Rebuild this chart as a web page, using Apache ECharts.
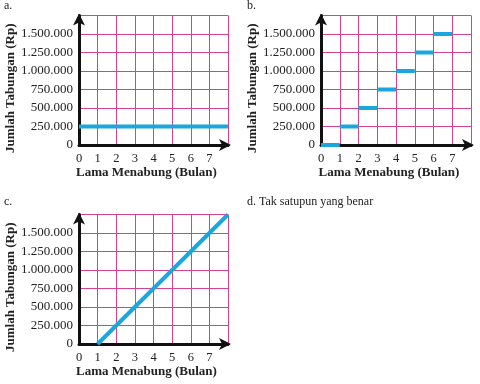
<!DOCTYPE html>
<html><head><meta charset="utf-8">
<script src="https://cdn.jsdelivr.net/npm/echarts@6/dist/echarts.min.js"></script>
<style>html,body{margin:0;padding:0;background:#fff}#c{width:480px;height:384px}</style>
</head><body><div id="c"></div>
<script>
// ---- data ----
const xTicks = [0, 1, 2, 3, 4, 5, 6, 7];
const yTicks = [0, 250000, 500000, 750000, 1000000, 1250000, 1500000];
const xName = 'Lama Menabung (Bulan)';
const yName = 'Jumlah Tabungan (Rp)';
const panelLabels = ['a.', 'b.', 'c.'];
const optionD = 'd. Tak satupun yang benar';
// panel a: constant savings
const seriesA = [[0, 250000], [8, 250000]];
// panel b: step values per month interval (start month, value)
const stepStarts = [0, 1, 2, 3, 4, 5, 6];
const stepValues = [0, 250000, 500000, 750000, 1000000, 1250000, 1500000];
// panel c: straight line
const seriesC = [[1, 0], [8, 1750000]];

const FONT = 'Liberation Serif';
const GRIDC = '#d6428f';
const LINEC = '#1ba7de';

function fmt(v) {
  return String(v).replace(/\B(?=(\d{3})+(?!\d))/g, '.');
}
function xAxis(i) {
  return {
    type: 'value', gridIndex: i, min: 0, max: 8, interval: 1,
    name: xName, nameLocation: 'middle', nameGap: 20,
    nameTextStyle: { fontFamily: FONT, fontWeight: 'bold', fontSize: 13, color: '#222', padding: [0, 14, 0, 0] },
    axisLine: { lineStyle: { color: '#111', width: 3 }, symbol: ['none', 'arrow'], symbolSize: [9, 12], symbolOffset: [0, 3] },
    axisTick: { show: false },
    axisLabel: { fontFamily: FONT, fontSize: 12.5, color: '#222', margin: 7,
      formatter: v => xTicks.includes(v) ? String(v) : '' },
    splitLine: { show: true, lineStyle: { color: GRIDC, width: 1 } }
  };
}
function yAxis(i) {
  return {
    type: 'value', gridIndex: i, min: 0, max: 1750000, interval: 250000,
    name: yName, nameLocation: 'middle', nameGap: 62, nameRotate: 90,
    nameTextStyle: { fontFamily: FONT, fontWeight: 'bold', fontSize: 13, color: '#222', padding: [0, 16, 0, 0], align: 'center' },
    axisLine: { lineStyle: { color: '#111', width: 3 }, symbol: ['none', 'arrow'], symbolSize: [9, 12], symbolOffset: [0, 2] },
    axisTick: { show: false },
    axisLabel: { fontFamily: FONT, fontSize: 13, color: '#222', margin: 6,
      formatter: v => yTicks.includes(v) ? fmt(v) : '' },
    splitLine: { show: true, lineStyle: { color: GRIDC, width: 1 } }
  };
}
const lineStyle = { color: LINEC, width: 4 };
const series = [];
series.push({ type: 'line', xAxisIndex: 0, yAxisIndex: 0, data: seriesA, symbol: 'none', lineStyle, z: 5 });
stepStarts.forEach((s, k) => {
  series.push({ type: 'line', xAxisIndex: 1, yAxisIndex: 1,
    data: [[s, stepValues[k]], [s + 1, stepValues[k]]], symbol: 'none', lineStyle, z: 5 });
});
series.push({ type: 'line', xAxisIndex: 2, yAxisIndex: 2, data: seriesC, symbol: 'none', lineStyle, z: 5 });

const chart = echarts.init(document.getElementById('c'));
chart.setOption({
  animation: false,
  title: [
    { text: panelLabels[0], left: 4, top: 0 },
    { text: panelLabels[1], left: 247, top: 0 },
    { text: panelLabels[2], left: 4, top: 196 },
    { text: optionD, left: 247, top: 196 }
  ].map(t => Object.assign(t, { padding: 0, textStyle: { fontFamily: FONT, fontSize: 12, fontWeight: 'normal', color: '#222' } })),
  grid: [
    { left: 79, top: 15.5, width: 149, height: 129.5 },
    { left: 321, top: 15.5, width: 150, height: 129.5 },
    { left: 79, top: 214.5, width: 149, height: 129.5 }
  ],
  xAxis: [xAxis(0), xAxis(1), xAxis(2)],
  yAxis: [yAxis(0), yAxis(1), yAxis(2)],
  series
});
</script></body></html>
